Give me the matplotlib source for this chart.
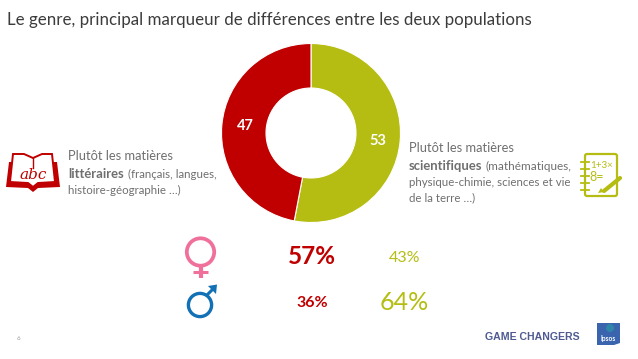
import matplotlib
matplotlib.use("Agg")
import matplotlib.pyplot as plt
from matplotlib.patches import Circle, Polygon, FancyBboxPatch

plt.rcParams['font.family'] = ['Lato', 'DejaVu Sans']

# Data
share_labels = ['53', '47']
share_values = [53, 47]
women_pct = ['57%', '43%']
men_pct = ['36%', '64%']
title = "Le genre, principal marqueur de différences entre les deux populations"

RED = '#c00000'
GREEN = '#b5bd12'
GREY = '#6f6f6f'
PINK = '#f0709c'
BLUE = '#1270b4'

W, H = 638, 359
fig = plt.figure(figsize=(W / 100, H / 100), dpi=100)
ax = fig.add_axes([0, 0, 1, 1])

# Donut (y axis is flipped, so counterclock here reads clockwise on screen)
wedges, _ = ax.pie(share_values, colors=[GREEN, RED], startangle=-90, counterclock=True,
                   center=(311, 133), radius=89.5, wedgeprops=dict(width=44.5, edgecolor='white', linewidth=0.8))
ax.set_xlim(0, W)
ax.set_ylim(H, 0)
ax.set_aspect('auto')
ax.axis('off')

ax.text(378, 141, share_labels[0], color='white', fontsize=10.5, fontweight='bold', ha='center', va='center')
ax.text(245, 126, share_labels[1], color='white', fontsize=10.5, fontweight='bold', ha='center', va='center')

# Title
ax.text(7, 20, title, color='#3c3c3c', fontsize=12.15, ha='left', va='center')

# Left text
ax.text(68, 156, "Plutôt les matières", color=GREY, fontsize=9.3, va='center')
ax.text(68, 174, "littéraires", color=GREY, fontsize=9.4, fontweight='bold', va='center')
ax.text(128, 174, "(français, langues,", color=GREY, fontsize=8.3, va='center')
ax.text(68, 190, "histoire-géographie …)", color=GREY, fontsize=8.3, va='center')

# Right text
ax.text(409, 148, "Plutôt les matières", color=GREY, fontsize=9.3, va='center')
ax.text(409, 166, "scientifiques", color=GREY, fontsize=9.4, fontweight='bold', va='center')
ax.text(486, 166, "(mathématiques,", color=GREY, fontsize=8.5, va='center')
ax.text(409, 182, "physique-chimie, sciences et vie", color=GREY, fontsize=8.3, va='center')
ax.text(409, 198, "de la terre …)", color=GREY, fontsize=8.3, va='center')

# Percentages
ax.text(312, 257, women_pct[0], color=RED, fontsize=17.5, fontweight='bold', ha='center', va='center')
ax.text(404.5, 258, women_pct[1], color=GREEN, fontsize=11.5, ha='center', va='center')
ax.text(312, 303, men_pct[0], color=RED, fontsize=11.5, fontweight='bold', ha='center', va='center')
ax.text(404.5, 302, men_pct[1], color=GREEN, fontsize=18, ha='center', va='center')

# Female symbol
ax.add_patch(Circle((200.5, 252), 13.7, fill=False, edgecolor=PINK, linewidth=2.7))
ax.plot([200.5, 200.5], [266, 278], color=PINK, lw=3, solid_capstyle='butt')
ax.plot([193, 208], [272, 272], color=PINK, lw=2.2, solid_capstyle='butt')

# Male symbol
ax.add_patch(Circle((200, 305), 11.6, fill=False, edgecolor=BLUE, linewidth=2.4))
ax.plot([207, 214], [295, 288], color=BLUE, lw=2.2, solid_capstyle='butt')
ax.add_patch(Polygon([[208, 286], [217, 284.5], [216, 294]], closed=True, color=BLUE, lw=0))

# Book icon
ax.add_patch(Polygon([[9, 162], [6, 187], [28, 188], [33, 192], [38, 188], [60, 187], [57, 162]],
                     closed=True, color=RED, lw=0))
ax.add_patch(Polygon([[13, 154], [24, 154], [33, 158], [42, 154], [52, 154], [55, 182], [38, 183], [33, 187],
                      [28, 183], [10, 182]], closed=True, facecolor='white', edgecolor=RED, lw=1.4))
ax.plot([33, 33], [158, 168], color=RED, lw=1)
ax.text(33, 175, "abc", color=RED, fontsize=11, style='italic', family='DejaVu Serif', ha='center', va='center')

# Notebook icon
ax.add_patch(FancyBboxPatch((585, 154), 32, 42, boxstyle='round,pad=0,rounding_size=2', facecolor='white',
                            edgecolor=GREEN, lw=1.6))
for y in (162, 169, 176, 183, 190):
    ax.plot([581, 589], [y, y], color=GREEN, lw=1.3)
ax.text(602, 165, "1+3×", color=GREEN, fontsize=7, ha='center', va='center')
ax.text(597, 177, "8=", color=GREEN, fontsize=9, ha='center', va='center')
ax.plot([604, 620], [191, 178], color=GREEN, lw=3, solid_capstyle='round')
ax.add_patch(Polygon([[598, 193], [601, 188], [604, 192]], closed=True, color=GREEN, lw=0))

# Footer
ax.text(18, 339, "6", color='#9a9a9a', fontsize=4.5, ha='center', va='center')
ax.text(532, 337.5, "GAME CHANGERS", color='#4f5a91', fontsize=7.6, fontweight='bold', family='Liberation Sans',
        ha='center', va='center')
ax.add_patch(Polygon([[597, 323], [620, 323], [620, 343], [614, 345], [597, 345]], closed=True, color='#3a64ad', lw=0))
ax.add_patch(Circle((610, 328), 4, color='#2f86a8', lw=0))
ax.text(608.5, 339, "Ipsos", color='white', fontsize=4.8, fontweight='bold', ha='center', va='center')

fig.savefig('out.png', dpi=100, facecolor='white')
